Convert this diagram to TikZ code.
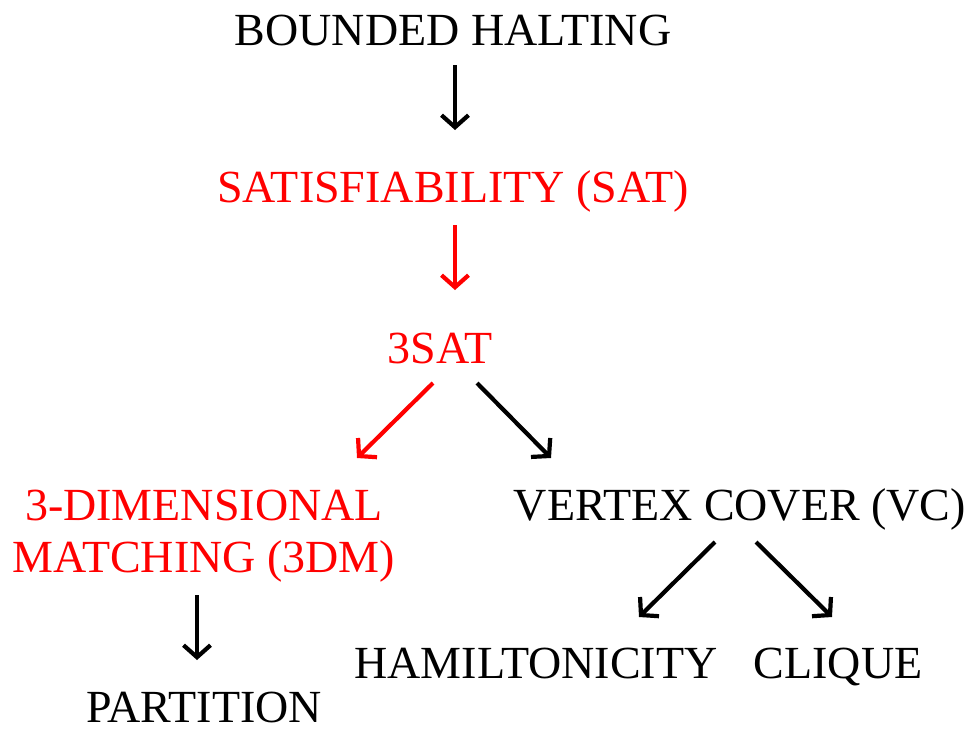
\documentclass[tikz,border=0pt]{standalone}
\usepackage{fontspec}
\setmainfont{Liberation Serif}
\usetikzlibrary{arrows.meta,calc}
\definecolor{myred}{RGB}{255,0,0}
\tikzset{
  lbl/.style={anchor=base,inner sep=0pt,font=\fontsize{46}{52}\selectfont,align=center},
  arr/.style={line width=4.2pt,-{Straight Barb[length=12pt,width=27pt]}},
}
\begin{document}
\begin{tikzpicture}[x=1pt,y=-1pt]
\useasboundingbox (0,0) rectangle (967,734);
\node[lbl] (bh) at (453,45) {BOUNDED HALTING};
\node[lbl,text=myred] (sat) at (453,202) {SATISFIABILITY (SAT)};
\node[lbl,text=myred] (tsat) at (440,363) {3SAT};
\node[lbl,text=myred] (dm) at (204,572) {3-DIMENSIONAL\\MATCHING (3DM)};
\node[lbl] (vc) at (740,520) {VERTEX COVER (VC)};
\node[lbl] (ham) at (536,678) {HAMILTONICITY};
\node[lbl] (cl) at (838,678) {CLIQUE};
\node[lbl] (part) at (204,722) {PARTITION};
\draw[arr] ($(bh.base)+(2,20)$) -- ($(sat.base)+(2,-72)$);
\draw[arr,myred] ($(sat.base)+(2,23)$) -- ($(tsat.base)+(15,-73)$);
\draw[arr,myred] ($(tsat.base)+(-7,20)$) -- ($(dm.base)+(153,-114)$);
\draw[arr] ($(tsat.base)+(37,20)$) -- ($(vc.base)+(-189,-62)$);
\draw[arr] ($(dm.base)+(-7,23)$) -- ($(part.base)+(-7,-62)$);
\draw[arr] ($(vc.base)+(-25,22)$) -- ($(ham.base)+(103,-61)$);
\draw[arr] ($(vc.base)+(16,22)$) -- ($(cl.base)+(-6,-61)$);
\end{tikzpicture}
\end{document}
